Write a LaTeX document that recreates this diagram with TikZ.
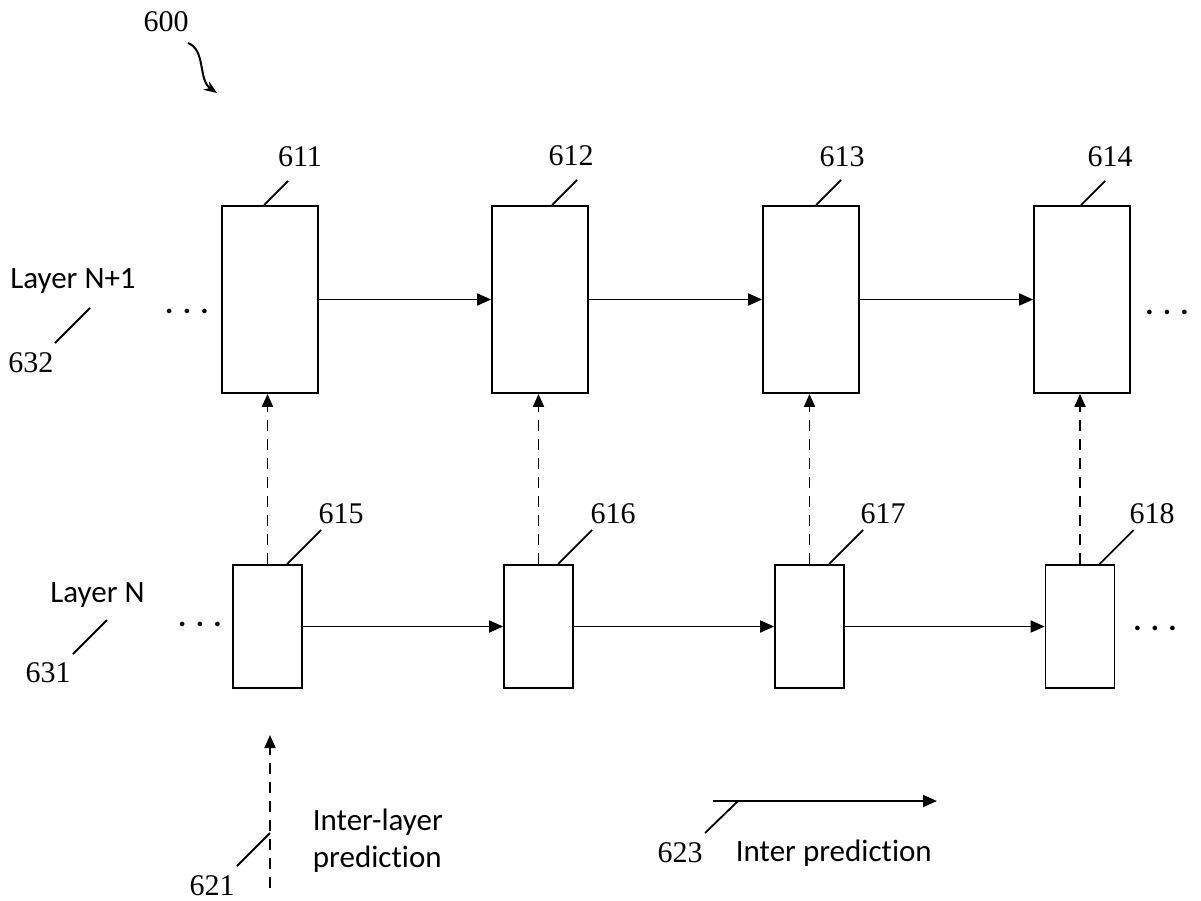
\documentclass[tikz,border=0pt]{standalone}
\usepackage{fontspec}
\setmainfont{Liberation Serif}
\newfontfamily\labelfont[Ligatures=CommonOff]{Carlito}
\usetikzlibrary{arrows.meta}

\begin{document}
\begin{tikzpicture}[x=1pt,y=-1pt,line width=1.8pt,
    bigbox/.style={draw,minimum width=96pt,minimum height=187pt,inner sep=0pt},
    smallbox/.style={draw,minimum width=69pt,minimum height=123pt,inner sep=0pt},
    num/.style={font=\fontsize{30}{30}\selectfont,inner sep=0pt,anchor=base},
    txt/.style={font=\labelfont\fontsize{31}{31}\selectfont,inner sep=0pt,anchor=base west},
    dots/.style={font=\labelfont\bfseries\fontsize{31}{31}\selectfont,inner sep=0pt,anchor=base},
    pred/.style={-{Triangle[length=14pt,width=12pt]}},
    interlayer/.style={-{Triangle[length=13pt,width=11pt]},dash pattern=on 11pt off 8pt}]

    \useasboundingbox (0,0) rectangle (1201,901);

    \node[num] (l600) at (166,32) {600};
    \coordinate (s0) at (188,43);
    \coordinate (s1) at (217,93);
    \draw[line width=2pt,-{Stealth[length=13pt,width=10pt]}] (s0)
    .. controls (206,50) and (198,80) .. (s1); % squiggle

    % layer N+1
    \node[bigbox] (n611) at (270,299.5) {};
    \node[bigbox] (n612) at (540,299.5) {};
    \node[bigbox] (n613) at (811,299.5) {};
    \node[bigbox] (n614) at (1082,299.5) {};

    % layer N
    \node[smallbox] (n615) at (267.5,626.5) {};
    \node[smallbox] (n616) at (538.5,626.5) {};
    \node[smallbox] (n617) at (809.5,626.5) {};
    \node[smallbox] (n618) at (1080,626.5) {};

    \node[dots] (d1) at (187,313) {. . .};
    \node[dots] (d2) at (1167,314) {. . .};
    \node[dots] (d3) at (200,626) {. . .};
    \node[dots] (d4) at (1155,630) {. . .};

    % inter prediction
    \draw[pred] (n611) -- (n612);
    \draw[pred] (n612) -- (n613);
    \draw[pred] (n613) -- (n614);
    \draw[pred] (n615) -- (n616);
    \draw[pred] (n616) -- (n617);
    \draw[pred] (n617) -- (n618);

    % inter-layer prediction
    \draw[interlayer] (n615.north) -- (n615.north |- n611.south);
    \draw[interlayer] (n616.north) -- (n616.north |- n612.south);
    \draw[interlayer] (n617.north) -- (n617.north |- n613.south);
    \draw[interlayer] (n618.north) -- (n618.north |- n614.south);

    % box labels
    \node[num] (l611) at (300,167) {611};
    \draw ([xshift=43pt]n611.north west) -- ++(24,-24);
    \node[num] (l612) at (571,166) {612};
    \draw ([xshift=61pt]n612.north west) -- ++(25,-25);
    \node[num] (l613) at (842,167) {613};
    \draw ([xshift=54pt]n613.north west) -- ++(25,-25);
    \node[num] (l614) at (1110,167) {614};
    \draw ([xshift=48pt]n614.north west) -- ++(24,-24);

    \node[num] (l615) at (341,523) {615};
    \draw ([xshift=55pt]n615.north west) -- ++(34,-34);
    \node[num] (l616) at (613,523) {616};
    \draw ([xshift=55pt]n616.north west) -- ++(34,-34);
    \node[num] (l617) at (883,523) {617};
    \draw ([xshift=55pt]n617.north west) -- ++(34,-34);
    \node[num] (l618) at (1152,523) {618};
    \draw ([xshift=55pt]n618.north west) -- ++(34,-34);

    % layer labels
    \node[txt,anchor=base] (layer1) at (73,288) {Layer N+1};
    \node[num] (l632) at (31,372) {632};
    \draw (90,308) -- (55,343);
    \node[txt,anchor=base] (layer0) at (97.5,602) {Layer N};
    \node[num] (l631) at (48,682) {631};
    \draw (107,620) -- (73,654);

    % legend
    \coordinate (il0) at (270,888);
    \coordinate (il1) at (270,735);
    \draw[interlayer] (il0) -- (il1);
    \draw (270,833) -- (237,866);
    \node[num] (l621) at (212,895) {621};
    \node[txt] (iltext1) at (312,830) {Inter-layer};
    \node[txt] (iltext2) at (312,867) {prediction};

    \coordinate (ip0) at (713,801);
    \coordinate (ip1) at (937,801);
    \draw[pred] (ip0) -- (ip1);
    \draw (738,801) -- (705,833);
    \node[num] (l623) at (680,862) {623};
    \node[txt] (iptext) at (735,861) {Inter prediction};
\end{tikzpicture}
\end{document}
